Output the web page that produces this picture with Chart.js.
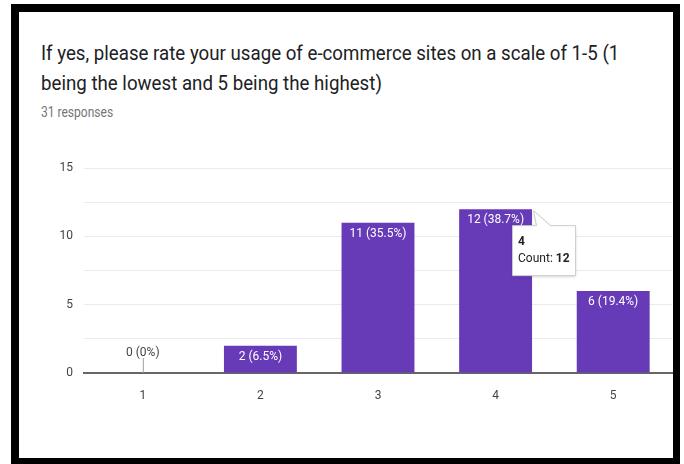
<!DOCTYPE html>
<html>
<head>
<meta charset="utf-8">
<title>e-commerce usage rating</title>
<script src="https://cdn.jsdelivr.net/npm/chart.js@4"></script>
<style>
  html, body { margin: 0; padding: 0; background: #fff; }
  body { width: 684px; height: 464px; position: relative; overflow: hidden; font-family: Roboto, sans-serif; }
  .frame {
    position: absolute; left: 11px; top: 4px;
    width: 654px; height: 446px;
    border: solid #000; border-width: 8px 7px 8px 8px;
  }
  .title {
    position: absolute; left: 41px; top: 38px; white-space: nowrap;
    font-size: 21px; line-height: 30px; color: #202124;
    transform: scaleX(0.89); transform-origin: left top;
  }
  .sub {
    position: absolute; left: 41px; top: 104px; white-space: nowrap;
    font-size: 14px; line-height: 16px; color: #757575;
    transform: scaleX(0.86); transform-origin: left top;
  }
  .chart-box { position: absolute; left: 19px; top: 150px; width: 654px; height: 253px; }
</style>
</head>
<body>
<div class="frame"></div>
<div class="title">If yes, please rate your usage of e-commerce sites on a scale of 1-5 (1<br>being the lowest and 5 being the highest)</div>
<div class="sub">31 responses</div>
<div class="chart-box"><canvas id="myChart"></canvas></div>
<script>
// rating options and how many people picked each
const ratings = ['1', '2', '3', '4', '5'];
const counts = [0, 2, 11, 12, 6];
const totalResponses = 31;
const yTicks = [0, 5, 10, 15];
const hovered = 3; // the "4" bar shows its hover card

function pct(v) {
    return parseFloat((v / totalResponses * 100).toFixed(1));
}

// "n (p%)" labels: white inside the top of a bar, grey stub for zero
const valueLabels = {
    id: 'valueLabels',
    afterDatasetsDraw(chart) {
        const ctx = chart.ctx;
        const meta = chart.getDatasetMeta(0);
        ctx.save();
        ctx.font = '12px Roboto';
        ctx.textAlign = 'center';
        meta.data.forEach((bar, i) => {
            const v = counts[i];
            const text = v + ' (' + pct(v) + '%)';
            if (v === 0) {
                ctx.strokeStyle = '#9e9e9e';
                ctx.lineWidth = 1;
                ctx.beginPath();
                ctx.moveTo(bar.x + 0.5, bar.y - 15);
                ctx.lineTo(bar.x + 0.5, bar.y);
                ctx.stroke();
                ctx.fillStyle = '#444';
                ctx.textBaseline = 'middle';
                ctx.fillText(text, bar.x, bar.y - 20);
            } else {
                ctx.fillStyle = '#fff';
                ctx.textBaseline = 'middle';
                ctx.fillText(text, bar.x, bar.y + 11);
            }
        });
        ctx.restore();
    }
};

// small hover card next to the top of the hovered bar
const hoverCard = {
    id: 'hoverCard',
    afterDraw(chart) {
        const ctx = chart.ctx;
        const bar = chart.getDatasetMeta(0).data[hovered];
        const right = bar.x + bar.width / 2;
        const bx = right - 20, by = bar.y + 16, bw = 63, bh = 50;
        ctx.save();
        ctx.shadowColor = 'rgba(0,0,0,0.18)';
        ctx.shadowBlur = 3;
        ctx.shadowOffsetY = 1;
        ctx.fillStyle = '#fff';
        ctx.strokeStyle = '#cccccc';
        ctx.lineWidth = 1;
        ctx.beginPath();
        ctx.moveTo(bx + 0.5, by + 0.5);
        ctx.lineTo(right + 4.5, by + 0.5);
        ctx.lineTo(right + 1.5, bar.y + 1.5);
        ctx.lineTo(right + 18.5, by + 0.5);
        ctx.lineTo(bx + bw + 0.5, by + 0.5);
        ctx.lineTo(bx + bw + 0.5, by + bh + 0.5);
        ctx.lineTo(bx + 0.5, by + bh + 0.5);
        ctx.closePath();
        ctx.fill();
        ctx.shadowColor = 'transparent';
        ctx.stroke();
        ctx.fillStyle = '#222';
        ctx.textAlign = 'left';
        ctx.textBaseline = 'middle';
        ctx.font = 'bold 12px Roboto';
        ctx.fillText(ratings[hovered], bx + 6, by + 17);
        ctx.font = '12px Roboto';
        const lab = 'Count: ';
        ctx.fillText(lab, bx + 6, by + 34);
        const w = ctx.measureText(lab).width;
        ctx.font = 'bold 12px Roboto';
        ctx.fillText(String(counts[hovered]), bx + 6 + w, by + 34);
        ctx.restore();
    }
};

Chart.defaults.font.family = 'Roboto';
Chart.defaults.font.size = 12;

const ctx = document.getElementById('myChart').getContext('2d');
new Chart(ctx, {
    type: 'bar',
    data: {
        labels: ratings,
        datasets: [{
            data: counts,
            backgroundColor: '#673ab7',
            borderWidth: 0,
            barPercentage: 0.62,
            categoryPercentage: 1
        }]
    },
    options: {
        responsive: true,
        maintainAspectRatio: false,
        animation: false,
        events: [],
        layout: { padding: { top: 16, right: 1, left: 0, bottom: 0 } },
        plugins: {
            legend: { display: false },
            tooltip: { enabled: false }
        },
        scales: {
            x: {
                grid: { display: false },
                border: { display: true, color: '#666', width: 2 },
                ticks: { color: '#444', padding: 8, font: { size: 12 } },
                afterFit: s => { s.height = 30; }
            },
            y: {
                min: 0,
                max: 15,
                border: { display: false },
                grid: { color: '#ebebeb', drawTicks: false },
                ticks: {
                    stepSize: 2.5,
                    color: '#444',
                    padding: 11,
                    font: { size: 12 },
                    callback: v => yTicks.includes(v) ? v : ''
                },
                afterFit: s => { s.width = 65; }
            }
        }
    },
    plugins: [valueLabels, hoverCard]
});
</script>
</body>
</html>
